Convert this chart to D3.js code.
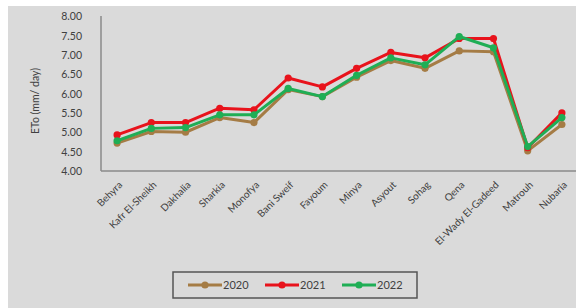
<!DOCTYPE html>
<html>
<head>
	<title>ETo</title>
	<style>
		body{ margin:0; background:#fff; }
		text{ font-family: Lato, "Open Sans", sans-serif; fill:#404040; }
		.axis path{ stroke:#8a8a8a; stroke-width:1.5; }
		.axis line{ display:none; }
		.line{ fill:none; stroke-width:3; stroke-linejoin:round; }
	</style>
	<script src="https://d3js.org/d3.v7.min.js"></script>
</head>
<body>
<svg width="576" height="308"></svg>
<script>

	var regions = ["Behyra","Kafr El-Sheikh","Dakhalia","Sharkia","Monofya","Bani Sweif","Fayoum",
	               "Minya","Asyout","Sohag","Qena","El-Wady El-Gadeed","Matrouh","Nubaria"];
	var eto2020 = [4.72,5.02,5.00,5.38,5.25,6.10,5.92,6.42,6.85,6.65,7.10,7.08,4.52,5.20];
	var eto2021 = [4.93,5.25,5.25,5.62,5.58,6.40,6.17,6.65,7.06,6.92,7.42,7.42,4.60,5.50];
	var eto2022 = [4.78,5.10,5.12,5.45,5.45,6.13,5.92,6.47,6.92,6.74,7.47,7.18,4.63,5.38];
	var yTicks = [4,4.5,5,5.5,6,6.5,7,7.5,8];
	var years = ["2020","2021","2022"];
	var colors = ["#a57c45","#e8131c","#1fae55"];

	var series = [eto2020, eto2021, eto2022];

	var svg = d3.select("svg");

	// chart background
	svg.append("rect")
	   .attr("x",8).attr("y",6)
	   .attr("width",568).attr("height",302)
	   .attr("fill","#dadada");

	var x = d3.scalePoint().domain(regions).range([100,579]).padding(0.5),
	    y = d3.scaleLinear().domain([4,8]).range([171,16]);

	svg.append("g")
	   .attr("class","axis axis--y")
	   .attr("transform","translate(101,0)")
	   .call(d3.axisLeft(y).tickValues(yTicks).tickFormat(d3.format(".2f")).tickSizeOuter(0).tickPadding(13))
	   .call(function(g){ g.selectAll("text").attr("font-size",10.5).attr("dy","0.35em"); })
	   .select(".domain").attr("d","M0,16V171");

	var gx = svg.append("g")
	   .attr("class","axis axis--x")
	   .attr("transform","translate(0,171)")
	   .call(d3.axisBottom(x).tickSizeOuter(0).tickSize(0));
	gx.select(".domain").attr("d","M101,0H576");
	gx.selectAll("text")
	  .attr("font-size",10)
	  .attr("text-anchor","end")
	  .attr("dy","0.35em")
	  .attr("transform","translate(3,12) rotate(-45)")
	  .attr("y",0).attr("x",0);

	svg.append("text")
	   .attr("transform","translate(39,101) rotate(-90)")
	   .attr("text-anchor","middle")
	   .attr("font-size",10.5)
	   .text("ETo (mm/ day)");

	var line = d3.line()
	   .x(function(d,i){ return x(regions[i]); })
	   .y(function(d){ return y(d); });

	series.forEach(function(s,k){
		svg.append("path")
		   .attr("class","line")
		   .attr("stroke",colors[k])
		   .attr("d",line(s));
		svg.selectAll(".dot"+k)
		   .data(s)
		   .enter().append("circle")
		   .attr("class","dot"+k)
		   .attr("cx",function(d,i){ return x(regions[i]); })
		   .attr("cy",function(d){ return y(d); })
		   .attr("r",3.6)
		   .attr("fill",colors[k]);
	});

	// legend
	var leg = svg.append("g");
	leg.append("rect")
	   .attr("x",173).attr("y",272)
	   .attr("width",244).attr("height",26)
	   .attr("fill","none")
	   .attr("stroke","#555")
	   .attr("stroke-width",1.5);

	years.forEach(function(yr,k){
		var lx = 188 + k*77;
		leg.append("line")
		   .attr("x1",lx).attr("x2",lx+34)
		   .attr("y1",285).attr("y2",285)
		   .attr("stroke",colors[k]).attr("stroke-width",3);
		leg.append("circle")
		   .attr("cx",lx+17).attr("cy",285).attr("r",3.6)
		   .attr("fill",colors[k]);
		leg.append("text")
		   .attr("x",lx+35).attr("y",285)
		   .attr("dy","0.35em")
		   .attr("font-size",11)
		   .text(yr);
	});

</script>
</body>
</html>
